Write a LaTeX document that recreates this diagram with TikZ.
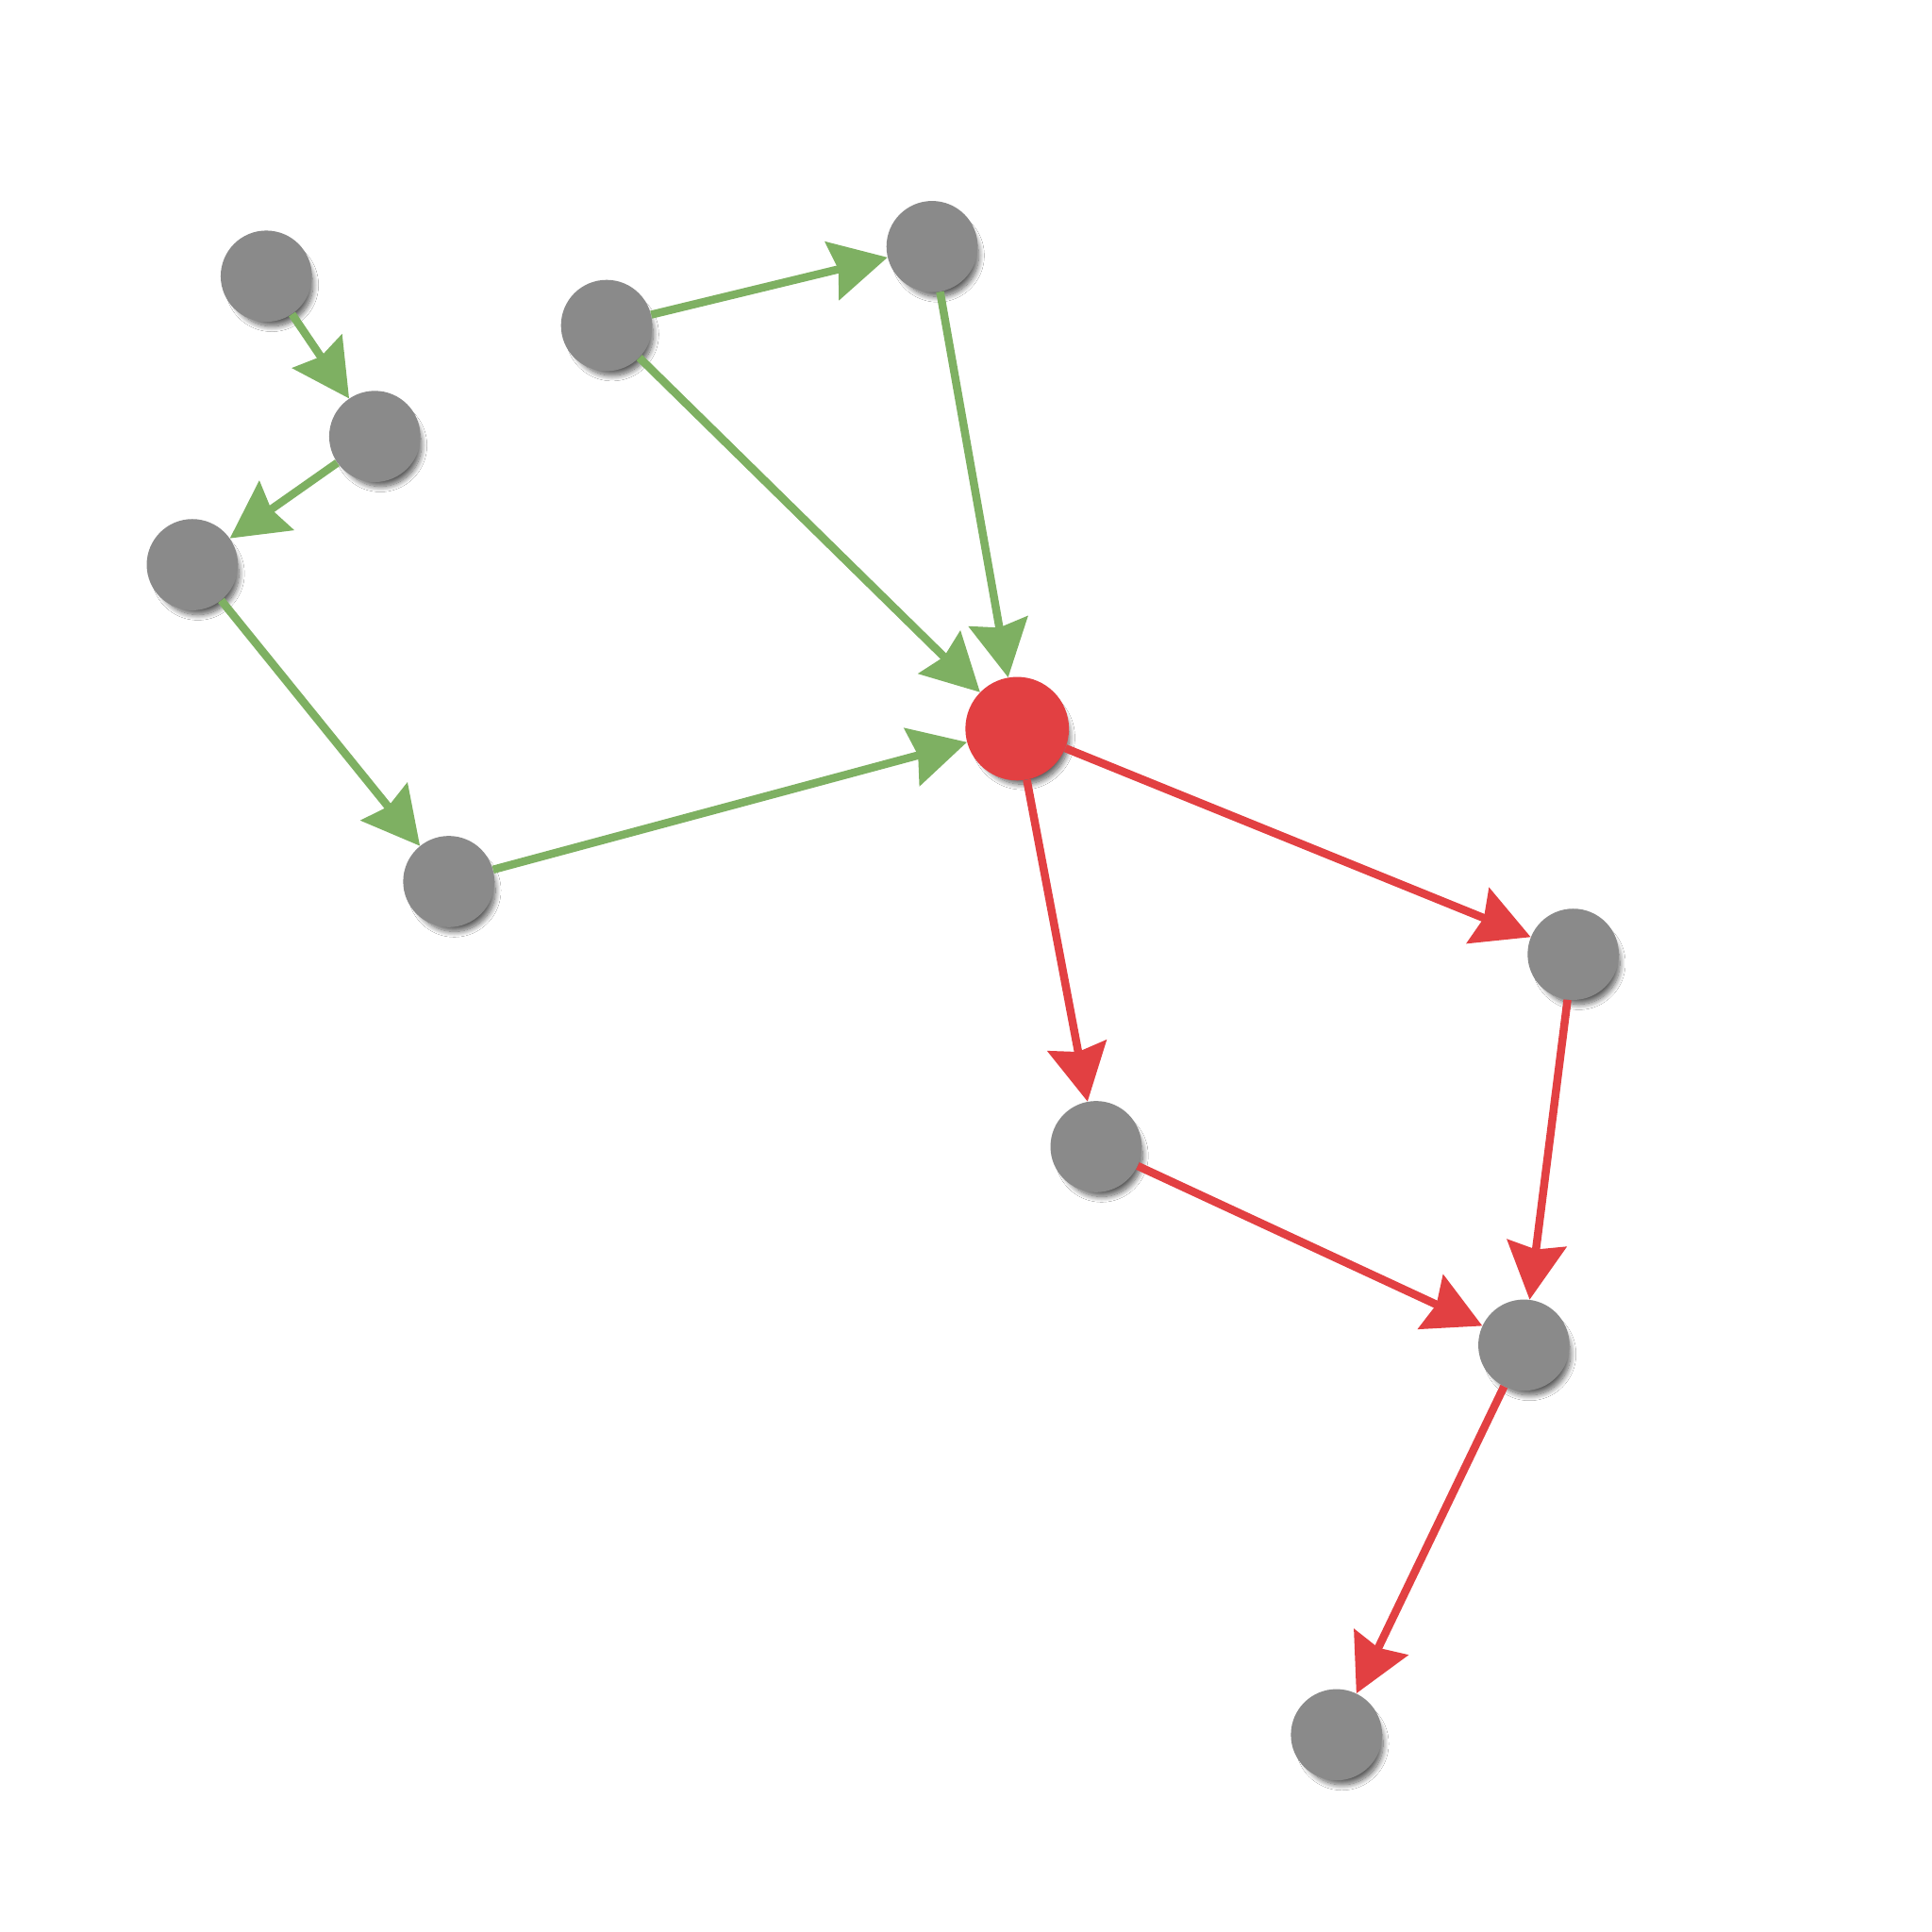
\documentclass[tikz,border=0pt]{standalone}
\usepackage{tikz}
\usetikzlibrary{arrows.meta,shadows.blur}
\definecolor{nodegray}{RGB}{138,138,138}
\definecolor{edgegreen}{RGB}{126,176,98}
\definecolor{edgered}{RGB}{226,64,66}
\tikzset{
  vertex/.style={circle, fill=nodegray, minimum size=74pt, inner sep=0pt,
    blur shadow={shadow xshift=5pt, shadow yshift=-8pt, shadow scale=0.9, shadow opacity=65, shadow blur radius=5pt, shadow blur steps=12}},
  hub/.style={vertex, fill=edgered, minimum size=84pt},
  ingreen/.style={draw=edgegreen, line width=6.5pt, -{Stealth[length=46pt, width=48pt, inset=5pt]}},
  outred/.style={draw=edgered, line width=6.5pt, -{Stealth[length=46pt, width=48pt, inset=5pt]}}
}
\begin{document}
\begin{tikzpicture}[x=1pt,y=-1pt]
  \useasboundingbox[fill=white] (0,0) rectangle (1567,1567);
  % nodes
  \node[vertex] (a) at (216,224) {};
  \node[vertex] (b) at (304,354) {};
  \node[vertex] (c) at (156,458) {};
  \node[vertex] (d) at (364,715) {};
  \node[vertex] (e) at (492,264) {};
  \node[vertex] (f) at (756,200) {};
  \node[hub] (r) at (825,591) {};
  \node[vertex] (g) at (1276,774) {};
  \node[vertex] (h) at (889,930) {};
  \node[vertex] (i) at (1236,1091) {};
  \node[vertex] (j) at (1084,1407) {};
  % edges into the hub
  \draw[ingreen] (a) -- (b);
  \draw[ingreen] (b) -- (c);
  \draw[ingreen] (c) -- (d);
  \draw[ingreen] (d) -- (r);
  \draw[ingreen] (e) -- (f);
  \draw[ingreen] (e) -- (r);
  \draw[ingreen] (f) -- (r);
  % edges out of the hub
  \draw[outred] (r) -- (g);
  \draw[outred] (r) -- (h);
  \draw[outred] (g) -- (i);
  \draw[outred] (h) -- (i);
  \draw[outred] (i) -- (j);
\end{tikzpicture}
\end{document}
